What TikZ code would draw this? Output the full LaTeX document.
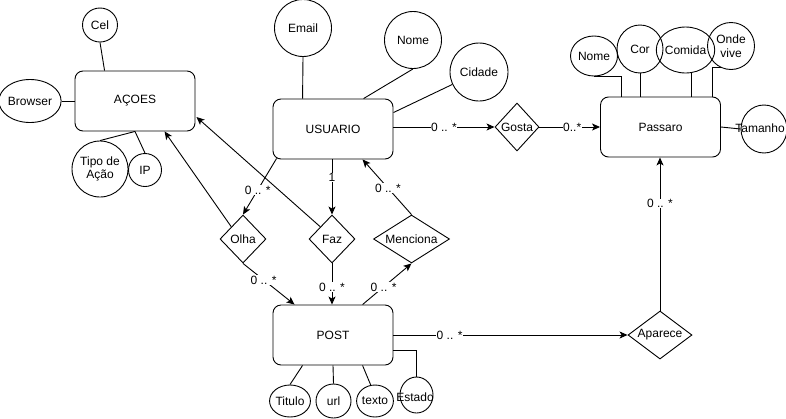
\documentclass[tikz,border=0pt]{standalone}
\usepackage{fontspec}
\setmainfont{Liberation Sans}
\usetikzlibrary{shapes.geometric,arrows.meta,calc}
\begin{document}
\begin{tikzpicture}[x=1pt,y=-1pt,line width=0.9pt,
  txt/.style={font=\fontsize{12}{13.5}\selectfont},
  ent/.style={draw, rounded corners=8pt, minimum width=120pt, minimum height=60pt, txt},
  attr/.style={draw, ellipse, inner sep=0pt, txt, align=center},
  rel/.style={draw, diamond, inner sep=0pt, txt},
  lbl/.style={fill=white, inner sep=0.5pt, font=\fontsize{12}{13}\selectfont},
  arr/.style={-{Stealth[length=8pt,width=7pt,inset=2pt]}}
]
\useasboundingbox (0,0) rectangle (786,418);
\fill[white] (0,0) rectangle (786,418);

% entities
\node[ent] (acoes) at (135,101) {AÇOES};
\node[ent] (usuario) at (333,129) {USUARIO};
\node[ent] (passaro) at (660.5,127) {Passaro};
\node[ent] (post) at (333,335) {POST};

% attributes of ACOES
\node[attr, minimum width=35pt, minimum height=34pt] (cel) at (100,25) {Cel};
\node[attr, minimum width=57pt, minimum height=43pt] (browser) at (30,101) {Browser};
\node[attr, minimum width=56pt, minimum height=56pt] (tipo) at (100,169) {Tipo de\\Ação};
\node[attr, minimum width=33pt, minimum height=33pt] (ip) at (145,170) {IP};

% attributes of USUARIO
\node[attr, minimum width=57pt, minimum height=57pt] (email) at (303,28) {Email};
\node[attr, minimum width=57pt, minimum height=57pt] (nome) at (413,40) {Nome};
\node[attr, minimum width=58pt, minimum height=58pt] (cidade) at (479,72) {Cidade};

% attributes of Passaro
\node[attr, minimum width=47pt, minimum height=40pt] (pnome) at (594,56) {Nome};
\node[attr, minimum width=46pt, minimum height=48pt] (cor) at (640,49) {Cor};
\node[attr, minimum width=46pt, minimum height=46pt] (comida) at (685.5,50) {Comida};
\node[attr, minimum width=47pt, minimum height=47pt] (onde) at (731,46) {Onde\\vive};
\node[attr, minimum width=46pt, minimum height=48pt] (tamanho) at (764,129) {};
\node[txt, inner sep=0pt] (tamtxt) at (760,128) {Tamanho};

% attributes of POST
\node[attr, minimum width=33pt, minimum height=32pt] (titulo) at (290,401) {Titulo};
\node[attr, minimum width=35pt, minimum height=34pt] (url) at (333.5,401) {url};
\node[attr, minimum width=29pt, minimum height=32pt] (texto) at (375,401) {texto};
\node[attr, minimum width=33pt, minimum height=36pt] (estado) at (416.5,395) {};
\node[txt] (esttxt) at (415,397) {Estado};

% relationships
\node[rel, minimum width=46pt, minimum height=48pt] (olha) at (243,239) {Olha};
\node[rel, minimum width=46pt, minimum height=48pt] (faz) at (332,239) {Faz};
\node[rel, minimum width=76pt, minimum height=48pt, aspect=1.5] (menciona) at (411.5,239) {Menciona};
\node[rel, minimum width=44pt, minimum height=48pt] (gosta) at (517,127) {Gosta};
\node[rel, minimum width=64pt, minimum height=48pt, aspect=1.4] (aparece) at (660,335) {Aparece};

% attribute lines
\draw (cel.south) -- ($(acoes.north west)+(30,0)$);
\draw (browser.east) -- (acoes.west);
\draw (tipo.north) -- (acoes.south);
\draw (ip.north) -- (acoes.south);
\draw (email.south) -- ($(usuario.north west)+(30,0)$);
\draw (nome.south) -- ($(usuario.north west)+(91,0)$);
\draw (cidade.205) -- ($(usuario.north east)+(0,14)$);
\draw (pnome.south) -| ($(passaro.north west)+(21,0)$);
\draw (cor.south) -- (cor.south |- passaro.north);
\draw (comida.-75) -- (comida.-75 |- passaro.north);
\draw (onde.245) -| ($(passaro.north west)+(112,0)$);
\draw (passaro.east) -- (tamanho.west);
\draw ($(post.south west)+(30,0)$) -- (titulo.north);
\draw (post.south) -- (url.north);
\draw ($(post.south west)+(90,0)$) -- (texto.105);
\draw ($(post.east)+(0,15)$) -| (estado.north);

% relationship connectors
\draw[arr] ($(usuario.south west)+(4,-1)$) -- node[lbl, pos=0.56] {0 .. *} (olha.north);
\draw[arr] (olha.north west) -- ($(acoes.south west)+(90,0)$);
\draw[arr] (faz.north west) -- ($(acoes.east)+(1,16)$);
\draw[arr] (usuario.south -| faz.north) -- node[lbl, pos=0.33] {1} (faz.north);
\draw[arr] (menciona.north) -- node[lbl, pos=0.48] {0 .. *} ($(usuario.south west)+(90,0)$);
\draw[arr] (olha.south) -- node[lbl, pos=0.4] {0 .. *} ($(post.north west)+(22,0)$);
\draw[arr] (faz.south) -- node[lbl, pos=0.57] {0 .. *} (faz.south |- post.north);
\draw[arr] ($(post.north west)+(90,0)$) -- node[lbl, pos=0.43] {0 .. *} (menciona.south);
\draw[arr] (usuario.east |- gosta.west) -- node[lbl, pos=0.5] {0 .. *} (gosta.west);
\draw[arr] (gosta.east) -- node[lbl, pos=0.54] {0..*} (passaro.west |- gosta.east);
\draw[arr] (post.east) -- node[lbl, pos=0.24] {0 .. *} (aparece.west);
\draw[arr] (aparece.north) -- node[lbl, pos=0.7] {0 .. *} (aparece.north |- passaro.south);
\end{tikzpicture}
\end{document}
